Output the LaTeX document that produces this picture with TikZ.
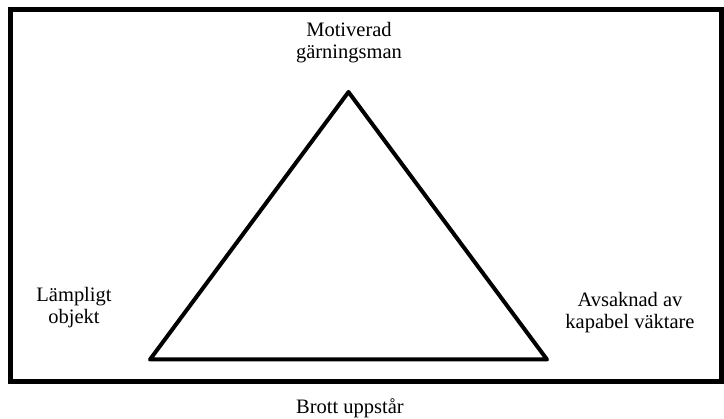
\documentclass[tikz,border=0pt]{standalone}
\usepackage{fontspec}
\setmainfont{Liberation Serif}
\begin{document}
\begin{tikzpicture}[x=1pt,y=-1pt,
    label text/.style={inner sep=0pt,anchor=base,align=center,
      font=\fontsize{20.5}{22.5}\selectfont}]
      \useasboundingbox (0,0) rectangle (724,419);
      \draw[line width=5pt] (10.5,10) rectangle (721.5,381.5);
      \coordinate (top) at (348.5,92);
      \coordinate (left) at (150,359.5);
      \coordinate (right) at (547,359.5);
      \draw[line width=4pt,line join=round] (top) -- (left) -- (right) -- cycle;
      \node[label text] (taeter) at (349,59) {Motiverad\\gärningsman};
      \node[label text] (objekt) at (74,324) {Lämpligt\\objekt};
      \node[label text] (vakt) at (630,329) {Avsaknad av\\kapabel väktare};
      \node[label text] (brott) at (350,414) {Brott uppstår};
    \end{tikzpicture}
\end{document}
